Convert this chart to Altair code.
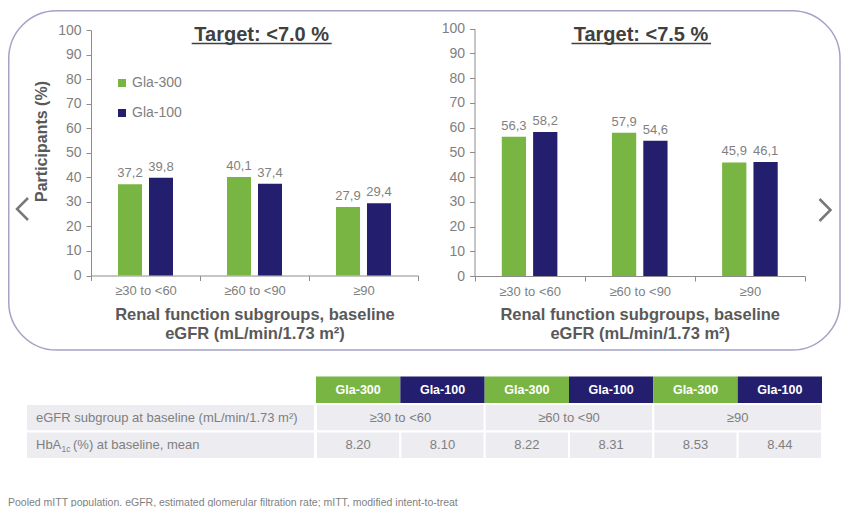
import altair as alt
import pandas as pd

# ---------------- data ----------------
categories = ["≥30 to <60", "≥60 to <90", "≥90"]
series = ["Gla-300", "Gla-100"]
panel_titles = ["Target: <7.0 %", "Target: <7.5 %"]
target70_gla300 = [37.2, 40.1, 27.9]
target70_gla100 = [39.8, 37.4, 29.4]
target75_gla300 = [56.3, 57.9, 45.9]
target75_gla100 = [58.2, 54.6, 46.1]
y_ticks = [0, 10, 20, 30, 40, 50, 60, 70, 80, 90, 100]
y_title = "Participants (%)"
x_title = ["Renal function subgroups, baseline", "eGFR (mL/min/1.73 m²)"]
table_row1_label = "eGFR subgroup at baseline  (mL/min/1.73 m²)"
table_row2_parts = ["HbA", "1c", "(%) at baseline, mean"]
hba1c_gla300 = [8.20, 8.22, 8.53]
hba1c_gla100 = [8.10, 8.31, 8.44]
footnote = "Pooled mITT population. eGFR, estimated glomerular filtration rate; mITT, modified intent-to-treat"

# ---------------- style ----------------
GREEN = "#79b543"
NAVY = "#231e6d"
GREY_TXT = "#7f7f7f"
DARK_TXT = "#595959"
TITLE_TXT = "#404040"
AXIS_COL = "#8c8c8c"
ROW_BG = "#ececf1"
BORDER = "#a3a3c6"
FONT = "Liberation Sans"

W, H = 834, 499

color_enc = alt.Color(
    "series:N",
    scale=alt.Scale(domain=series, range=[GREEN, NAVY]),
    legend=alt.Legend(
        title=None, orient="none", legendX=107, legendY=68,
        symbolType="square", symbolSize=64, symbolStrokeWidth=0,
        labelFontSize=14, labelColor=GREY_TXT, labelFont=FONT,
        labelOffset=3, rowPadding=16, padding=0,
    ),
)

one = pd.DataFrame({"k": [0]})


def panel(g300, g100, x_rng, y_rng, with_ytitle):
    df = pd.DataFrame({
        "cat": categories * 2,
        "series": [series[0]] * len(categories) + [series[1]] * len(categories),
        "value": g300 + g100,
    })
    df["label"] = [f"{v:.1f}".replace(".", ",") for v in df["value"]]

    y_kw = dict(orient="left", offset=-x_rng[0], values=y_ticks, tickSize=5,
                labelPadding=5, labelFontSize=14, labelColor=GREY_TXT,
                domainColor=AXIS_COL, tickColor=AXIS_COL, grid=False)
    if with_ytitle:
        y_kw.update(title=y_title, titleFontSize=16, titleFontWeight="bold",
                    titleColor=DARK_TXT, titleAngle=-90, titleX=-44.5, titleY=133,
                    titleAlign="center", titleBaseline="alphabetic")
    else:
        y_kw.update(title=None)

    x_axis = alt.Axis(orient="bottom", offset=y_rng[0] - H, tickBand="extent",
                      tickSize=5, labelPadding=4, labelFontSize=13, labelColor=GREY_TXT,
                      labelAngle=0, domainColor=AXIS_COL, tickColor=AXIS_COL, grid=False,
                      title=x_title, titleFontSize=16.5, titleFontWeight="bold",
                      titleColor=DARK_TXT, titleBaseline="top", titleY=30.5,
                      titleLineHeight=19)

    x = alt.X("cat:N", sort=categories,
              scale=alt.Scale(domain=categories, range=x_rng, paddingInner=0, paddingOuter=0),
              axis=x_axis)
    xo = alt.XOffset("series:N", sort=series,
                     scale=alt.Scale(domain=series, paddingInner=0.2258, paddingOuter=0.871))
    y = alt.Y("value:Q", scale=alt.Scale(domain=[0, 100], range=y_rng, nice=False, zero=True),
              axis=alt.Axis(**y_kw))
    base = alt.Chart(df)
    bars = base.mark_bar().encode(x=x, xOffset=xo, y=y, color=color_enc)
    labels = base.mark_text(dy=-7, baseline="alphabetic", fontSize=13, color=GREY_TXT).encode(
        x=x, xOffset=xo, y=y, text="label:N")
    return alt.layer(bars, labels)


left = panel(target70_gla300, target70_gla100, [83, 410], [267.5, 22], True)
right = panel(target75_gla300, target75_gla100, [466.5, 797], [268, 20.5], False)

# ---------------- decorations ----------------
border = alt.Chart(one).mark_rect(filled=False, stroke=BORDER, strokeWidth=1.5, cornerRadius=48).encode(
    x=alt.value(0.75), x2=alt.value(832), y=alt.value(2.7), y2=alt.value(342))

title_layers = []
for t, cx, ux in zip(panel_titles, [253.7, 633], [(183.7, 323.7), (563.5, 703)]):
    title_layers.append(
        alt.Chart(pd.DataFrame({"t": [t]})).mark_text(
            fontSize=20, fontWeight="bold", color=TITLE_TXT, align="center", baseline="alphabetic"
        ).encode(x=alt.value(cx), y=alt.value(32.7), text="t:N"))
    title_layers.append(
        alt.Chart(one).mark_rule(color=TITLE_TXT, strokeWidth=1.5).encode(
            x=alt.value(ux[0]), x2=alt.value(ux[1]), y=alt.value(35.5)))

chev_left = alt.Chart(one).mark_point(
    shape="M0.5,-1L-0.5,0L0.5,1", filled=False, stroke="#404040", strokeWidth=2.5, size=484
).encode(x=alt.value(14.5), y=alt.value(201))
chev_right = alt.Chart(one).mark_point(
    shape="M-0.5,-1L0.5,0L-0.5,1", filled=False, stroke="#404040", strokeWidth=2.5, size=484
).encode(x=alt.value(817), y=alt.value(202))

foot = alt.Chart(pd.DataFrame({"t": [footnote]})).mark_text(
    fontSize=10.5, color=GREY_TXT, align="left", baseline="middle"
).encode(x=alt.value(0), y=alt.value(495), text="t:N")

# ---------------- table ----------------
tx = alt.Scale(domain=[0, 6], range=[308, 814], nice=False, zero=False)
ty = alt.Scale(domain=[0, 3], range=[368.5, 451], nice=False, zero=False)

n = len(categories) * len(series)
header_df = pd.DataFrame({
    "c0": list(range(n)), "c1": list(range(1, n + 1)),
    "cm": [i + 0.5 for i in range(n)],
    "series": series * len(categories),
    "r0": [0] * n, "r1": [1] * n, "rm": [0.5] * n,
})
row1_df = pd.DataFrame({
    "c0": [2 * i for i in range(len(categories))],
    "c1": [2 * i + 2 for i in range(len(categories))],
    "cm": [2 * i + 1 for i in range(len(categories))],
    "txt": categories,
    "r0": [1] * len(categories), "r1": [2] * len(categories), "rm": [1.5] * len(categories),
})
vals = []
for a, b in zip(hba1c_gla300, hba1c_gla100):
    vals += [a, b]
row2_df = pd.DataFrame({
    "c0": list(range(n)), "c1": list(range(1, n + 1)),
    "cm": [i + 0.5 for i in range(n)],
    "txt": [f"{v:.2f}" for v in vals],
    "r0": [2] * n, "r1": [3] * n, "rm": [2.5] * n,
})
lab_df = pd.DataFrame({"r0": [1, 2], "r1": [2, 3], "rm": [1.5, 2.5]})


def X(f):
    return alt.X(f, scale=tx, axis=None)


def Y(f):
    return alt.Y(f, scale=ty, axis=None)


hdr_rect = alt.Chart(header_df).mark_rect().encode(
    x=X("c0:Q"), x2="c1:Q", y=Y("r0:Q"), y2="r1:Q", color=color_enc)
hdr_text = alt.Chart(header_df).mark_text(
    color="white", fontWeight="bold", fontSize=12.5, baseline="middle"
).encode(x=X("cm:Q"), y=Y("rm:Q"), text="series:N")

r1_rect = alt.Chart(row1_df).mark_rect(fill=ROW_BG, stroke="white", strokeWidth=2).encode(
    x=X("c0:Q"), x2="c1:Q", y=Y("r0:Q"), y2="r1:Q")
r1_text = alt.Chart(row1_df).mark_text(color=GREY_TXT, fontSize=13, baseline="middle").encode(
    x=X("cm:Q"), y=Y("rm:Q"), text="txt:N")
r2_rect = alt.Chart(row2_df).mark_rect(fill=ROW_BG, stroke="white", strokeWidth=2).encode(
    x=X("c0:Q"), x2="c1:Q", y=Y("r0:Q"), y2="r1:Q")
r2_text = alt.Chart(row2_df).mark_text(color=GREY_TXT, fontSize=13, baseline="middle").encode(
    x=X("cm:Q"), y=Y("rm:Q"), text="txt:N")

lab_rect = alt.Chart(lab_df).mark_rect(fill=ROW_BG, stroke="white", strokeWidth=2).encode(
    x=alt.value(18), x2=alt.value(307), y=Y("r0:Q"), y2="r1:Q")
lab1 = alt.Chart(pd.DataFrame({"t": [table_row1_label], "rm": [1.5]})).mark_text(
    color=GREY_TXT, fontSize=13, align="left", baseline="middle"
).encode(x=alt.value(28), y=Y("rm:Q"), text="t:N")
lab2a = alt.Chart(pd.DataFrame({"t": [table_row2_parts[0]], "rm": [2.5]})).mark_text(
    color=GREY_TXT, fontSize=13, align="left", baseline="middle"
).encode(x=alt.value(28), y=Y("rm:Q"), text="t:N")
lab2b = alt.Chart(pd.DataFrame({"t": [table_row2_parts[1]], "rm": [2.5]})).mark_text(
    color=GREY_TXT, fontSize=8.5, align="left", baseline="middle", dy=3.5
).encode(x=alt.value(53.5), y=Y("rm:Q"), text="t:N")
lab2c = alt.Chart(pd.DataFrame({"t": [table_row2_parts[2]], "rm": [2.5]})).mark_text(
    color=GREY_TXT, fontSize=13, align="left", baseline="middle"
).encode(x=alt.value(65), y=Y("rm:Q"), text="t:N")

table = alt.layer(hdr_rect, hdr_text, lab_rect, r1_rect, r2_rect,
                  r1_text, r2_text, lab1, lab2a, lab2b, lab2c)

chart = alt.layer(
    border, left, right, *title_layers, table, chev_left, chev_right, foot
).resolve_scale(
    x="independent", y="independent", xOffset="independent"
).properties(
    width=W, height=H, autosize=alt.AutoSizeParams(type="none"), padding=0,
    background="white",
).configure(font=FONT).configure_view(strokeWidth=0)

chart.save("out.html", embed_options={"renderer": "svg", "actions": False})
